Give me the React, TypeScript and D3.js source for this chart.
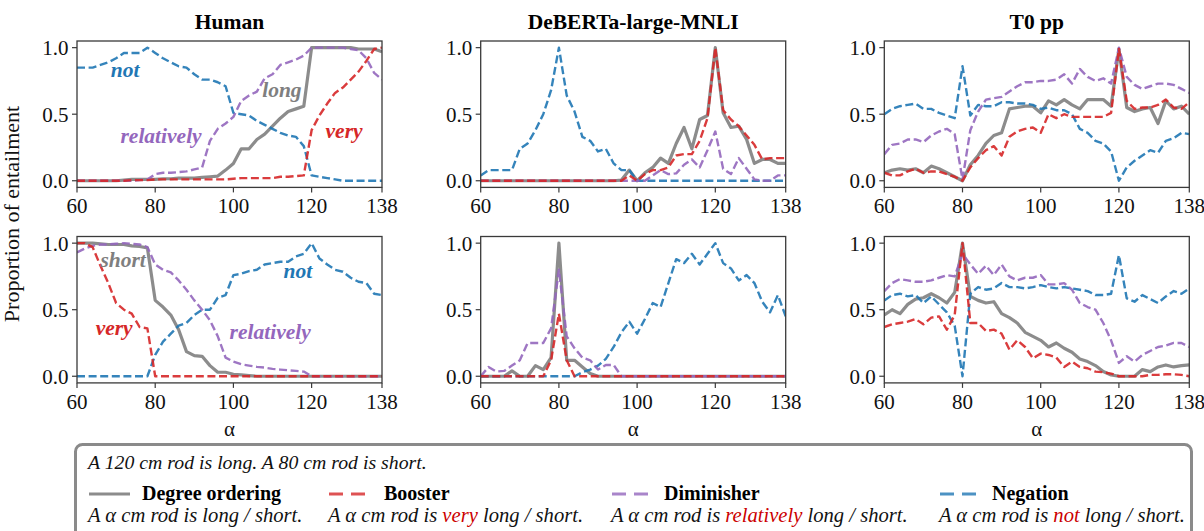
import React from "react";
import * as d3 from "d3";

const alphas = [60, 62, 64, 66, 68, 70, 72, 74, 76, 78, 80, 82, 84, 86, 88, 90, 92, 94, 96, 98, 100, 102, 104, 106, 108, 110, 112, 114, 116, 118, 120, 122, 124, 126, 128, 130, 132, 134, 136, 138];
const xTicks = [60, 80, 100, 120, 138];
const yTicks = [0, 0.5, 1];
const modelTitles = ["Human", "DeBERTa-large-MNLI", "T0 pp"];

// Human, "long" row
const humanLongDegree = [0, 0, 0, 0, 0, 0, 0.005, 0.01, 0.01, 0.01, 0.01, 0.015, 0.015, 0.02, 0.02, 0.02, 0.025, 0.03, 0.035, 0.08, 0.13, 0.24, 0.24, 0.31, 0.35, 0.41, 0.47, 0.52, 0.54, 0.56, 1.0, 1.0, 1.0, 1.0, 1.0, 1.0, 0.99, 0.99, 0.99, 0.97];
const humanLongBooster = [0, 0, 0, 0, 0, 0, 0, 0.005, 0.005, 0.005, 0.01, 0.01, 0.01, 0.01, 0.01, 0.01, 0.01, 0.01, 0.01, 0.01, 0.015, 0.02, 0.02, 0.02, 0.02, 0.02, 0.03, 0.03, 0.035, 0.04, 0.38, 0.49, 0.58, 0.66, 0.7, 0.76, 0.82, 0.9, 0.99, 1.0];
const humanLongDiminisher = [0, 0, 0, 0, 0, 0, 0, 0, 0.005, 0.01, 0.05, 0.06, 0.06, 0.065, 0.07, 0.085, 0.1, 0.3, 0.39, 0.43, 0.48, 0.6, 0.64, 0.67, 0.77, 0.8, 0.87, 0.89, 0.91, 0.94, 1.0, 1.0, 1.0, 1.0, 1.0, 0.99, 0.98, 0.92, 0.81, 0.76];
const humanLongNegation = [0.85, 0.85, 0.85, 0.87, 0.89, 0.92, 0.96, 0.96, 0.96, 1.0, 0.96, 0.92, 0.89, 0.86, 0.85, 0.8, 0.76, 0.76, 0.74, 0.71, 0.51, 0.5, 0.49, 0.45, 0.42, 0.39, 0.36, 0.34, 0.33, 0.26, 0.04, 0.03, 0.02, 0.01, 0, 0, 0, 0, 0, 0];

// Human, "short" row
const humanShortDegree = [1.0, 1.0, 1.0, 0.995, 0.99, 0.99, 0.99, 0.98, 0.975, 0.965, 0.57, 0.52, 0.46, 0.35, 0.185, 0.155, 0.15, 0.08, 0.03, 0.03, 0.015, 0.01, 0.005, 0, 0, 0, 0, 0, 0, 0, 0, 0, 0, 0, 0, 0, 0, 0, 0, 0];
const humanShortBooster = [1.0, 1.0, 0.97, 0.83, 0.7, 0.55, 0.5, 0.47, 0.37, 0.36, 0, 0, 0, 0, 0, 0, 0, 0, 0, 0, 0, 0, 0, 0, 0, 0, 0, 0, 0, 0, 0, 0, 0, 0, 0, 0, 0, 0, 0, 0];
const humanShortDiminisher = [0.93, 0.96, 0.98, 0.99, 0.99, 0.995, 1.0, 0.995, 0.99, 0.97, 0.84, 0.8, 0.78, 0.72, 0.65, 0.57, 0.5, 0.42, 0.3, 0.14, 0.11, 0.09, 0.08, 0.07, 0.065, 0.055, 0.05, 0.045, 0.04, 0.035, 0, 0, 0, 0, 0, 0, 0, 0, 0, 0];
const humanShortNegation = [0, 0, 0, 0, 0, 0, 0, 0, 0, 0, 0.16, 0.26, 0.32, 0.38, 0.4, 0.46, 0.5, 0.5, 0.59, 0.61, 0.76, 0.77, 0.79, 0.8, 0.84, 0.85, 0.86, 0.86, 0.9, 0.92, 1.0, 0.885, 0.84, 0.8, 0.785, 0.74, 0.71, 0.7, 0.62, 0.61];

// DeBERTa, "long" row
const debertaLongDegree = [0, 0, 0, 0, 0, 0, 0, 0, 0, 0, 0, 0, 0, 0, 0, 0, 0, 0, 0.005, 0.08, 0, 0.06, 0.1, 0.17, 0.13, 0.28, 0.4, 0.24, 0.46, 0.49, 1.0, 0.51, 0.4, 0.41, 0.31, 0.13, 0.16, 0.16, 0.13, 0.13];
const debertaLongBooster = [0, 0, 0, 0, 0, 0, 0, 0, 0, 0, 0, 0, 0, 0, 0, 0, 0, 0, 0, 0.04, 0, 0.05, 0.08, 0.08, 0.1, 0.19, 0.2, 0.2, 0.3, 0.47, 1.0, 0.53, 0.46, 0.41, 0.34, 0.27, 0.16, 0.17, 0.17, 0.17];
const debertaLongDiminisher = [0, 0, 0, 0, 0, 0, 0, 0, 0, 0, 0, 0, 0, 0, 0, 0, 0, 0, 0, 0, 0, 0, 0.04, 0.08, 0.05, 0.055, 0.12, 0.16, 0.1, 0.23, 0.37, 0.09, 0.05, 0.17, 0.09, 0.01, 0, 0, 0.04, 0.04];
const debertaLongNegation = [0.04, 0.08, 0.08, 0.08, 0.08, 0.24, 0.28, 0.38, 0.5, 0.68, 1.0, 0.64, 0.52, 0.33, 0.3, 0.22, 0.24, 0.13, 0.08, 0.08, 0, 0, 0, 0, 0, 0, 0, 0, 0, 0, 0, 0, 0, 0, 0, 0, 0, 0, 0, 0];

// DeBERTa, "short" row
const debertaShortDegree = [0, 0, 0, 0, 0.04, 0, 0, 0.08, 0.05, 0.14, 1.0, 0.12, 0.12, 0.07, 0.02, 0, 0, 0, 0, 0, 0, 0, 0, 0, 0, 0, 0, 0, 0, 0, 0, 0, 0, 0, 0, 0, 0, 0, 0, 0];
const debertaShortBooster = [0, 0, 0, 0, 0, 0, 0, 0, 0, 0.12, 0.47, 0.12, 0, 0, 0, 0, 0, 0, 0, 0, 0, 0, 0, 0, 0, 0, 0, 0, 0, 0, 0, 0, 0, 0, 0, 0, 0, 0, 0, 0];
const debertaShortDiminisher = [0, 0.07, 0.035, 0.04, 0.08, 0.12, 0.25, 0.25, 0.25, 0.36, 0.8, 0.3, 0.21, 0.14, 0.12, 0.05, 0.085, 0.085, 0, 0, 0, 0, 0, 0, 0, 0, 0, 0, 0, 0, 0, 0, 0, 0, 0, 0, 0, 0, 0, 0];
const debertaShortNegation = [0, 0, 0, 0, 0, 0, 0, 0, 0, 0, 0, 0, 0, 0.03, 0.05, 0.08, 0.13, 0.22, 0.33, 0.41, 0.32, 0.43, 0.55, 0.52, 0.7, 0.88, 0.85, 0.92, 0.84, 0.92, 1.0, 0.85, 0.81, 0.72, 0.76, 0.7, 0.56, 0.48, 0.61, 0.45];

// T0 pp, "long" row
const t0LongDegree = [0.06, 0.08, 0.09, 0.08, 0.09, 0.06, 0.11, 0.09, 0.06, 0.03, 0, 0.12, 0.19, 0.28, 0.34, 0.36, 0.54, 0.55, 0.56, 0.56, 0.51, 0.6, 0.57, 0.61, 0.57, 0.54, 0.61, 0.61, 0.61, 0.56, 0.99, 0.55, 0.52, 0.54, 0.55, 0.43, 0.6, 0.54, 0.56, 0.5];
const t0LongBooster = [0.06, 0.04, 0.04, 0.07, 0.09, 0.06, 0.07, 0.07, 0.05, 0.03, 0, 0.1, 0.17, 0.23, 0.26, 0.19, 0.33, 0.37, 0.39, 0.4, 0.36, 0.5, 0.47, 0.5, 0.48, 0.48, 0.48, 0.48, 0.48, 0.51, 0.99, 0.6, 0.54, 0.55, 0.55, 0.57, 0.61, 0.55, 0.54, 0.59];
const t0LongDiminisher = [0.2, 0.27, 0.28, 0.31, 0.31, 0.29, 0.34, 0.37, 0.39, 0.35, 0.01, 0.38, 0.52, 0.61, 0.62, 0.63, 0.67, 0.71, 0.74, 0.74, 0.75, 0.75, 0.76, 0.8, 0.73, 0.84, 0.78, 0.75, 0.77, 0.73, 1.0, 0.78, 0.72, 0.69, 0.71, 0.73, 0.73, 0.72, 0.69, 0.66];
const t0LongNegation = [0.5, 0.54, 0.56, 0.57, 0.58, 0.54, 0.54, 0.51, 0.49, 0.47, 0.86, 0.49, 0.57, 0.56, 0.56, 0.59, 0.59, 0.58, 0.58, 0.57, 0.54, 0.55, 0.53, 0.53, 0.5, 0.39, 0.36, 0.3, 0.28, 0.22, 0, 0.1, 0.15, 0.19, 0.23, 0.21, 0.3, 0.32, 0.36, 0.35];

// T0 pp, "short" row
const t0ShortDegree = [0.46, 0.5, 0.47, 0.54, 0.58, 0.59, 0.62, 0.59, 0.55, 0.63, 1.0, 0.6, 0.57, 0.55, 0.56, 0.47, 0.44, 0.4, 0.33, 0.3, 0.27, 0.22, 0.25, 0.21, 0.18, 0.13, 0.11, 0.08, 0.035, 0.01, 0, 0, 0, 0.05, 0.035, 0.07, 0.085, 0.07, 0.08, 0.085];
const t0ShortBooster = [0.37, 0.39, 0.4, 0.41, 0.43, 0.39, 0.44, 0.45, 0.35, 0.46, 1.0, 0.4, 0.4, 0.34, 0.35, 0.32, 0.2, 0.27, 0.22, 0.135, 0.17, 0.16, 0.14, 0.07, 0.11, 0.07, 0.06, 0.035, 0.03, 0.02, 0, 0, 0, 0, 0.01, 0.01, 0.015, 0.015, 0.01, 0];
const t0ShortDiminisher = [0.64, 0.7, 0.73, 0.72, 0.71, 0.71, 0.72, 0.74, 0.76, 0.75, 0.92, 0.84, 0.77, 0.83, 0.76, 0.84, 0.75, 0.72, 0.74, 0.74, 0.76, 0.69, 0.69, 0.7, 0.65, 0.55, 0.52, 0.5, 0.4, 0.27, 0.1, 0.15, 0.11, 0.16, 0.19, 0.22, 0.23, 0.25, 0.25, 0.22];
const t0ShortNegation = [0.57, 0.61, 0.62, 0.6, 0.61, 0.55, 0.6, 0.54, 0.48, 0.38, 0, 0.62, 0.67, 0.65, 0.66, 0.7, 0.67, 0.67, 0.66, 0.67, 0.685, 0.67, 0.66, 0.67, 0.66, 0.65, 0.64, 0.61, 0.61, 0.62, 0.91, 0.585, 0.56, 0.61, 0.58, 0.55, 0.6, 0.64, 0.62, 0.66];

const C = { degree: "#7f7f7f", booster: "#d62728", diminisher: "#9467bd", negation: "#1f77b4" };
const SERIF = "'Liberation Serif', 'Times New Roman', serif";

type Series = { key: keyof typeof C; values: number[] };
type Note = { text: string; key: keyof typeof C; x: number; y: number };

const panels: { row: number; col: number; series: Series[]; notes: Note[] }[] = [
  { row: 0, col: 0, series: [
    { key: "degree", values: humanLongDegree }, { key: "negation", values: humanLongNegation },
    { key: "diminisher", values: humanLongDiminisher }, { key: "booster", values: humanLongBooster }],
    notes: [
      { text: "not", key: "negation", x: 72.3, y: 0.78 },
      { text: "long", key: "degree", x: 112.4, y: 0.63 },
      { text: "relatively", key: "diminisher", x: 81.5, y: 0.28 },
      { text: "very", key: "booster", x: 128.3, y: 0.32 }] },
  { row: 0, col: 1, series: [
    { key: "degree", values: debertaLongDegree }, { key: "negation", values: debertaLongNegation },
    { key: "diminisher", values: debertaLongDiminisher }, { key: "booster", values: debertaLongBooster }], notes: [] },
  { row: 0, col: 2, series: [
    { key: "degree", values: t0LongDegree }, { key: "negation", values: t0LongNegation },
    { key: "diminisher", values: t0LongDiminisher }, { key: "booster", values: t0LongBooster }], notes: [] },
  { row: 1, col: 0, series: [
    { key: "degree", values: humanShortDegree }, { key: "negation", values: humanShortNegation },
    { key: "diminisher", values: humanShortDiminisher }, { key: "booster", values: humanShortBooster }],
    notes: [
      { text: "short", key: "degree", x: 71.8, y: 0.82 },
      { text: "not", key: "negation", x: 116.5, y: 0.74 },
      { text: "very", key: "booster", x: 69.5, y: 0.31 },
      { text: "relatively", key: "diminisher", x: 109.4, y: 0.28 }] },
  { row: 1, col: 1, series: [
    { key: "degree", values: debertaShortDegree }, { key: "negation", values: debertaShortNegation },
    { key: "diminisher", values: debertaShortDiminisher }, { key: "booster", values: debertaShortBooster }], notes: [] },
  { row: 1, col: 2, series: [
    { key: "degree", values: t0ShortDegree }, { key: "negation", values: t0ShortNegation },
    { key: "diminisher", values: t0ShortDiminisher }, { key: "booster", values: t0ShortBooster }], notes: [] },
];

const colX = [77, 480.7, 884.3];
const rowY = [41, 236.5];
const PW = 305;
const PH = 146.4;

function Panel({ row, col, series, notes }: typeof panels[number]) {
  const x0 = colX[col];
  const y0 = rowY[row];
  const x = d3.scaleLinear().domain([60, 138]).range([x0, x0 + PW]);
  const y = d3.scaleLinear().domain([-0.05, 1.05]).range([y0 + PH, y0]);
  const line = d3.line<number>().x((_, i) => x(alphas[i])).y((v) => y(v));
  const axisColor = "#3a3a3a";
  return (
    <g>
      <defs>
        <clipPath id={`clip-${row}-${col}`}>
          <rect x={x0} y={y0} width={PW} height={PH} />
        </clipPath>
      </defs>
      <g clipPath={`url(#clip-${row}-${col})`}>
        {series.map((s) => (
          <path key={s.key} d={line(s.values) || ""} fill="none" stroke={C[s.key]}
            strokeOpacity={0.9}
            strokeWidth={s.key === "degree" ? 3.2 : 2.4}
            strokeDasharray={s.key === "degree" ? undefined : "8,3.6"}
            strokeLinejoin="round" />
        ))}
      </g>
      {notes.map((n) => (
        <text key={n.text} x={x(n.x)} y={y(n.y)} textAnchor="middle" fill={C[n.key]}
          fontFamily={SERIF} fontSize={21.5} fontWeight="bold" fontStyle="italic">{n.text}</text>
      ))}
      <rect x={x0} y={y0} width={PW} height={PH} fill="none" stroke={axisColor} strokeWidth={1.3} />
      {xTicks.map((t) => (
        <g key={t}>
          <line x1={x(t)} x2={x(t)} y1={y0 + PH} y2={y0 + PH + 5} stroke={axisColor} strokeWidth={1.2} />
          <text x={x(t)} y={y0 + PH + 26} textAnchor="middle" fontFamily={SERIF} fontSize={21} fill="#111">{t}</text>
        </g>
      ))}
      {yTicks.map((t) => (
        <g key={t}>
          <line x1={x0 - 5} x2={x0} y1={y(t)} y2={y(t)} stroke={axisColor} strokeWidth={1.2} />
          <text x={x0 - 8.5} y={y(t)} dy="0.35em" textAnchor="end" fontFamily={SERIF} fontSize={21} fill="#111">{t.toFixed(1)}</text>
        </g>
      ))}
      {row === 0 && (
        <text x={x0 + PW / 2} y={29} textAnchor="middle" fontFamily={SERIF} fontSize={21.5} fontWeight="bold" fill="#000">{modelTitles[col]}</text>
      )}
      {row === 1 && (
        <text x={x0 + PW / 2} y={436} textAnchor="middle" fontFamily={SERIF} fontSize={21} fill="#111">α</text>
      )}
    </g>
  );
}

const legendItems = [
  { key: "degree" as const, title: "Degree ordering", lx: 89, tx: 142, pre: "A α cm rod is ", word: "", post: "long / short." },
  { key: "booster" as const, title: "Booster", lx: 329, tx: 384, pre: "A α cm rod is ", word: "very", post: " long / short." },
  { key: "diminisher" as const, title: "Diminisher", lx: 612, tx: 664, pre: "A α cm rod is ", word: "relatively", post: " long / short." },
  { key: "negation" as const, title: "Negation", lx: 940, tx: 992, pre: "A α cm rod is ", word: "not", post: " long / short." },
];

export default function App() {
  return (
    <svg width={1204} height={531} viewBox="0 0 1204 531" style={{ position: "absolute", left: 0, top: 0, background: "#fff" }}>
      <rect x={0} y={0} width={1204} height={531} fill="#fff" />
      <text transform="translate(19,214) rotate(-90)" textAnchor="middle" fontFamily={SERIF} fontSize={22} fill="#111">Proportion of entailment</text>
      {panels.map((p) => <Panel key={`${p.row}-${p.col}`} {...p} />)}
      <rect x={75.5} y={444.5} width={1116} height={110} rx={7} fill="none" stroke="#8a8a8a" strokeWidth={3} />
      <text x={88} y={469} fontFamily={SERIF} fontSize={19.8} fontStyle="italic" fill="#111">A 120 cm rod is long. A 80 cm rod is short.</text>
      {legendItems.map((it) => (
        <g key={it.key}>
          {it.key === "degree" ? (
            <line x1={it.lx} x2={it.lx + 41} y1={494} y2={494} stroke={C[it.key]} strokeWidth={3.2} strokeOpacity={0.9} />
          ) : (
            <line x1={it.lx} x2={it.lx + 36} y1={494} y2={494} stroke={C[it.key]} strokeWidth={3} strokeOpacity={0.8} strokeDasharray="14,8" />
          )}
          <text x={it.tx} y={500} fontFamily={SERIF} fontSize={20} fontWeight="bold" fill="#000">{it.title}</text>
          <text x={it.lx - 1} y={522} fontFamily={SERIF} fontSize={20.6} fontStyle="italic" fill="#111">
            {it.pre}
            {it.word && <tspan fill="#cc0000">{it.word}</tspan>}
            {it.post}
          </text>
        </g>
      ))}
    </svg>
  );
}
